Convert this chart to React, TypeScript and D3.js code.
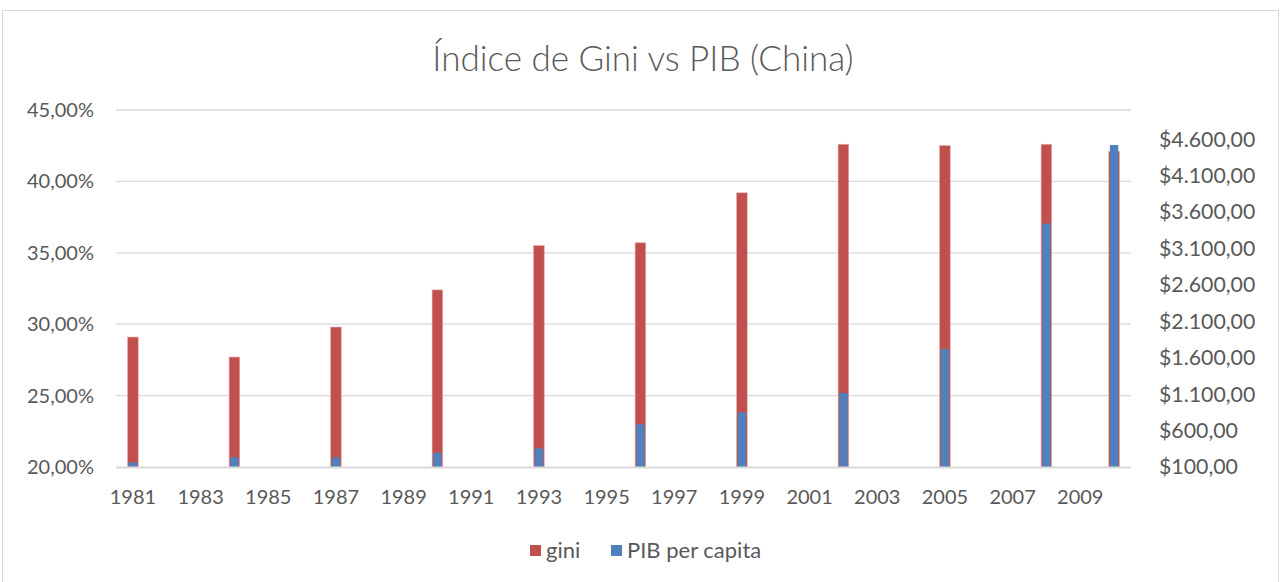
import React from "react";
import * as d3 from "d3";

const width = 1284,
  height = 582;

// category axis (every year, labels every other one)
const years = [
  1981, 1982, 1983, 1984, 1985, 1986, 1987, 1988, 1989, 1990,
  1991, 1992, 1993, 1994, 1995, 1996, 1997, 1998, 1999, 2000,
  2001, 2002, 2003, 2004, 2005, 2006, 2007, 2008, 2009, 2010,
];
const labelYears = [1981, 1983, 1985, 1987, 1989, 1991, 1993, 1995, 1997, 1999, 2001, 2003, 2005, 2007, 2009];

const dataYears = [1981, 1984, 1987, 1990, 1993, 1996, 1999, 2002, 2005, 2008, 2010];
const gini = [0.291, 0.277, 0.298, 0.324, 0.355, 0.357, 0.392, 0.426, 0.425, 0.426, 0.421];
const pib = [165, 230, 230, 295, 355, 685, 850, 1115, 1720, 3440, 4520];

const leftTicks = [0.2, 0.25, 0.3, 0.35, 0.4, 0.45];
const rightTicks = [100, 600, 1100, 1600, 2100, 2600, 3100, 3600, 4100, 4600];

const locale = d3.formatLocale({
  decimal: ",",
  thousands: ".",
  grouping: [3],
  currency: ["$", ""],
});
const fmtPct = locale.format(".2%");
const fmtUsd = locale.format("$,.2f");

const RED = "#c0504d";
const BLUE = "#4f81bd";
const TXT = "#595959";
const GRID = "#d9d9d9";
const FONT = "Lato, 'Open Sans', sans-serif";

const App = () => {
  const plot = { left: 116, right: 1131, top: 110, bottom: 467 };

  const x = d3.scaleBand<number>().domain(years).range([plot.left, plot.right]);
  const yL = d3.scaleLinear().domain([0.2, 0.45]).range([plot.bottom, plot.top]);
  const yR = d3.scaleLinear().domain([100, 5000]).range([plot.bottom, plot.top]);

  const cx = (yr: number) => (x(yr) ?? 0) + x.bandwidth() / 2;

  return (
    <svg
      width={width}
      height={height}
      style={{ position: "fixed", left: 0, top: 0, background: "#fff" }}
      fontFamily={FONT}
    >
      <rect x={2.5} y={10.5} width={1276} height={600} fill="#fff" stroke={GRID} />

      <text x={643} y={71} textAnchor="middle" fontSize={35} fontWeight={300} fill={TXT}>
        Índice de Gini vs PIB (China)
      </text>

      {/* gridlines */}
      {leftTicks.slice(1).map((t) => (
        <line key={t} x1={plot.left} x2={plot.right} y1={yL(t)} y2={yL(t)} stroke={GRID} strokeWidth={1.3} />
      ))}

      {/* gini bars (primary axis) */}
      {dataYears.map((yr, i) => (
        <rect
          key={"g" + yr}
          x={cx(yr) - 5.3}
          width={10.6}
          y={yL(gini[i])}
          height={plot.bottom - yL(gini[i])}
          fill={RED}
          stroke="#e8a5a3"
          strokeWidth={0.6}
        />
      ))}

      {/* PIB bars (secondary axis) */}
      {dataYears.map((yr, i) => (
        <rect
          key={"p" + yr}
          x={cx(yr) - 4.2}
          width={8.4}
          y={yR(pib[i])}
          height={plot.bottom - yR(pib[i])}
          fill={BLUE}
        />
      ))}

      {/* category axis line */}
      <line x1={plot.left} x2={plot.right} y1={plot.bottom + 0.5} y2={plot.bottom + 0.5} stroke={GRID} strokeWidth={2} />

      {/* left axis labels */}
      {leftTicks.map((t) => (
        <text key={t} x={94} y={yL(t)} dy="0.35em" textAnchor="end" fontSize={20} fill={TXT}>
          {fmtPct(t)}
        </text>
      ))}

      {/* right axis labels */}
      {rightTicks.map((t) => (
        <text key={t} x={1159} y={yR(t)} dy="0.35em" textAnchor="start" fontSize={21.3} fill={TXT}>
          {fmtUsd(t)}
        </text>
      ))}

      {/* x labels */}
      {labelYears.map((yr) => (
        <text key={yr} x={cx(yr)} y={504} textAnchor="middle" fontSize={20} fill={TXT}>
          {yr}
        </text>
      ))}

      {/* legend */}
      <g fontSize={22} fill={TXT}>
        <rect x={530} y={545} width={11} height={11} fill={RED} />
        <text x={546} y={558}>gini</text>
        <rect x={611} y={545} width={11} height={11} fill={BLUE} />
        <text x={627} y={558}>PIB per capita</text>
      </g>
    </svg>
  );
};

export default App;
